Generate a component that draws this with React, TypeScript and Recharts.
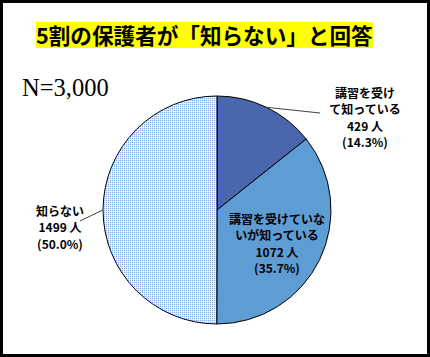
import React from 'react';
import { PieChart, Pie, Cell } from 'recharts';

const categories = ['講習を受けて知っている', '講習を受けていないが知っている', '知らない'];
const labelRows = [['講習を受け', 'て知っている'], ['講習を受けていな', 'いが知っている'], ['知らない']];
const counts = [429, 1072, 1499];
const total = 3000;

const COLORS = ['#4A67AD', '#5E9CD4', 'url(#checker)'];
const JP = '"Noto Sans CJK JP", "Noto Sans", sans-serif';

const data = categories.map((name, i) => ({ name, value: counts[i] }));

// label block offsets from pie centre (text centre x, first baseline y) and leader line end
const LABEL_POS = [
  { dx: 148, dy: -112, line: [103, -97] },
  { dx: 60, dy: 14, line: null },
  { dx: -157, dy: 6, line: [-137, 11] },
];

const RAD = Math.PI / 180;

function renderLabel(props: any) {
  const { cx, cy, midAngle, outerRadius, index, value } = props;
  const pos = LABEL_POS[index];
  const rows = [
    ...labelRows[index],
    `${value} 人`,
    `(${((value / total) * 100).toFixed(1)}%)`,
  ];
  const sx = cx + outerRadius * Math.cos(-midAngle * RAD);
  const sy = cy + outerRadius * Math.sin(-midAngle * RAD);
  return (
    <g key={`lbl-${index}`}>
      {pos.line && (
        <line x1={sx} y1={sy} x2={cx + pos.line[0]} y2={cy + pos.line[1]} stroke="#404040" strokeWidth={1} />
      )}
      {rows.map((r, k) => (
        <text
          key={k}
          x={cx + pos.dx}
          y={cy + pos.dy + k * 16.4}
          textAnchor="middle"
          fontFamily={JP}
          fontWeight="bold"
          fontSize={12}
          fill="#000"
        >
          {r}
        </text>
      ))}
    </g>
  );
}

export default function App() {
  return (
    <div style={{
      position: 'absolute', left: 0, top: 0, width: 430, height: 357,
      background: '#fff', border: '3px solid #000', boxSizing: 'border-box',
    }}>
      <svg width={0} height={0} style={{ position: 'absolute' }}>
        <defs>
          <pattern id="checker" width={2} height={2} patternUnits="userSpaceOnUse">
            <rect width={2} height={2} fill="#fff" />
            <rect x={0} y={0} width={1} height={1} fill="#8AB2E8" />
            <rect x={1} y={0} width={1} height={1} fill="#D8E6F8" />
            <rect x={0} y={1} width={1} height={1} fill="#D8E6F8" />
          </pattern>
        </defs>
      </svg>
      <div style={{
        position: 'absolute', left: 33, top: 19, height: 26, lineHeight: '26px',
        background: '#FFFF00', fontFamily: JP, fontWeight: 'bold', fontSize: 21.6,
        color: '#000', whiteSpace: 'nowrap',
      }}>
        5割の保護者が「知らない」と回答
      </div>
      <div style={{
        position: 'absolute', left: 19, top: 71, fontFamily: '"Liberation Serif", serif',
        fontSize: 24.5, color: '#000', whiteSpace: 'nowrap',
      }}>
        N=3,000
      </div>
      <div style={{ position: 'absolute', left: -3, top: -3 }}>
        <PieChart width={430} height={357} margin={{ top: 0, right: 0, bottom: 0, left: 0 }}>
          <Pie
            data={data}
            dataKey="value"
            cx={217}
            cy={210}
            outerRadius={114}
            startAngle={90}
            endAngle={-270}
            stroke="#000"
            strokeWidth={1}
            label={renderLabel}
            labelLine={false}
            isAnimationActive={false}
          >
            {data.map((d, i) => (
              <Cell key={d.name} fill={COLORS[i]} />
            ))}
          </Pie>
        </PieChart>
      </div>
    </div>
  );
}
